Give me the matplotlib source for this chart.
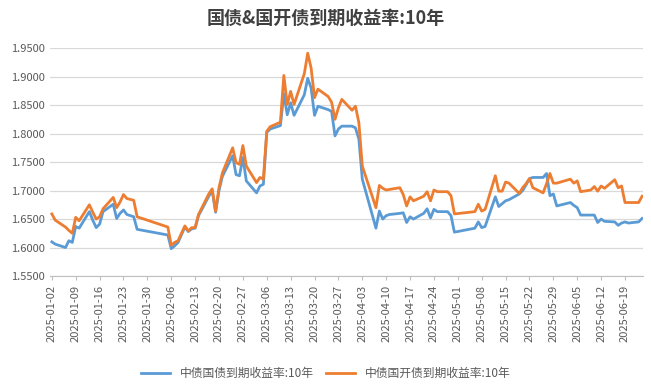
import matplotlib
matplotlib.use("Agg")
import matplotlib.pyplot as plt
import matplotlib.dates as mdates
import pandas as pd

plt.rcParams['font.family'] = ['Noto Sans CJK SC', 'DejaVu Sans']

# trading days and yields
dates = [
    "2025-01-02", "2025-01-03", "2025-01-06", "2025-01-07", "2025-01-08", "2025-01-09", "2025-01-10",
    "2025-01-13", "2025-01-14", "2025-01-15", "2025-01-16", "2025-01-17", "2025-01-20", "2025-01-21",
    "2025-01-22", "2025-01-23", "2025-01-24", "2025-01-26", "2025-01-27", "2025-02-05", "2025-02-06",
    "2025-02-07", "2025-02-08", "2025-02-10", "2025-02-11", "2025-02-12", "2025-02-13", "2025-02-14",
    "2025-02-17", "2025-02-18", "2025-02-19", "2025-02-20", "2025-02-21", "2025-02-24", "2025-02-25",
    "2025-02-26", "2025-02-27", "2025-02-28", "2025-03-03", "2025-03-04", "2025-03-05", "2025-03-06",
    "2025-03-07", "2025-03-10", "2025-03-11", "2025-03-12", "2025-03-13", "2025-03-14", "2025-03-17",
    "2025-03-18", "2025-03-19", "2025-03-20", "2025-03-21", "2025-03-24", "2025-03-25", "2025-03-26",
    "2025-03-27", "2025-03-28", "2025-03-31", "2025-04-01", "2025-04-02", "2025-04-03", "2025-04-07",
    "2025-04-08", "2025-04-09", "2025-04-10", "2025-04-11", "2025-04-14", "2025-04-15", "2025-04-16",
    "2025-04-17", "2025-04-18", "2025-04-21", "2025-04-22", "2025-04-23", "2025-04-24", "2025-04-25",
    "2025-04-28", "2025-04-29", "2025-04-30", "2025-05-06", "2025-05-07", "2025-05-08", "2025-05-09",
    "2025-05-12", "2025-05-13", "2025-05-14", "2025-05-15", "2025-05-16", "2025-05-19", "2025-05-20",
    "2025-05-21", "2025-05-22", "2025-05-23", "2025-05-26", "2025-05-27", "2025-05-28", "2025-05-29",
    "2025-05-30", "2025-06-03", "2025-06-04", "2025-06-05", "2025-06-06", "2025-06-09", "2025-06-10",
    "2025-06-11", "2025-06-12", "2025-06-13", "2025-06-16", "2025-06-17", "2025-06-18", "2025-06-19",
    "2025-06-20", "2025-06-23", "2025-06-24",
]

gov = [
    1.610, 1.606, 1.600, 1.612, 1.609, 1.637, 1.634,
    1.663, 1.648, 1.635, 1.641, 1.663, 1.676, 1.651,
    1.660, 1.666, 1.658, 1.654, 1.632, 1.622, 1.598,
    1.603, 1.609, 1.636, 1.628, 1.633, 1.634, 1.656,
    1.690, 1.700, 1.662, 1.700, 1.725, 1.761, 1.728,
    1.726, 1.758, 1.717, 1.696, 1.708, 1.711, 1.802,
    1.808, 1.814, 1.870, 1.833, 1.854, 1.832, 1.868,
    1.897, 1.880, 1.832, 1.848, 1.842, 1.839, 1.796,
    1.808, 1.813, 1.813, 1.810, 1.790, 1.720, 1.634,
    1.664, 1.650, 1.656, 1.658, 1.660, 1.661, 1.644,
    1.654, 1.650, 1.660, 1.668, 1.652, 1.667, 1.663,
    1.663, 1.656, 1.627, 1.634, 1.645, 1.635, 1.637,
    1.689, 1.672, 1.677, 1.682, 1.684, 1.694, 1.700,
    1.710, 1.721, 1.723, 1.723, 1.730, 1.691, 1.694,
    1.673, 1.679, 1.674, 1.670, 1.657, 1.657, 1.657,
    1.644, 1.650, 1.646, 1.645, 1.639, 1.643, 1.645,
    1.643, 1.645, 1.651,
]

cdb = [
    1.659, 1.648, 1.636, 1.630, 1.625, 1.653, 1.647,
    1.675, 1.662, 1.650, 1.654, 1.668, 1.688, 1.670,
    1.680, 1.693, 1.686, 1.683, 1.654, 1.636, 1.604,
    1.609, 1.612, 1.638, 1.629, 1.635, 1.635, 1.658,
    1.694, 1.703, 1.664, 1.705, 1.731, 1.775, 1.749,
    1.746, 1.779, 1.743, 1.714, 1.723, 1.720, 1.804,
    1.812, 1.820, 1.902, 1.851, 1.874, 1.851, 1.905,
    1.941, 1.915, 1.863, 1.878, 1.865, 1.855, 1.825,
    1.845, 1.860, 1.841, 1.848, 1.819, 1.743, 1.670,
    1.709, 1.704, 1.701, 1.702, 1.705, 1.693, 1.673,
    1.689, 1.682, 1.690, 1.698, 1.682, 1.701, 1.698,
    1.698, 1.691, 1.659, 1.663, 1.676, 1.664, 1.667,
    1.726, 1.699, 1.699, 1.715, 1.713, 1.695, 1.705,
    1.712, 1.721, 1.705, 1.696, 1.712, 1.730, 1.713,
    1.713, 1.720, 1.713, 1.717, 1.698, 1.701, 1.707,
    1.699, 1.708, 1.704, 1.719, 1.705, 1.708, 1.679,
    1.679, 1.679, 1.690,
]

x = pd.to_datetime(dates)
tick_dates = pd.date_range("2025-01-02", "2025-06-19", freq="7D")

fig = plt.figure(figsize=(6.51, 3.91), dpi=100)
ax = fig.add_axes([0.077, 0.294, 0.911, 0.583])

ax.plot(x, gov, color="#5b9bd5", lw=2.0, label="中债国债到期收益率:10年")
ax.plot(x, cdb, color="#ed7d31", lw=2.0, label="中债国开债到期收益率:10年")

ax.set_ylim(1.55, 1.95)
ax.set_yticks([1.55 + 0.05 * i for i in range(9)])
ax.yaxis.set_major_formatter(plt.FuncFormatter(lambda v, p: f"{v:.4f}"))
ax.set_xlim(pd.Timestamp("2025-01-01 12:00"), pd.Timestamp("2025-06-24 08:00"))
ax.set_xticks(tick_dates)
ax.xaxis.set_major_formatter(mdates.DateFormatter("%Y-%m-%d"))
plt.setp(ax.get_xticklabels(), rotation=90)

ax.grid(axis="y", color="#d9d9d9", lw=0.9)
ax.set_axisbelow(True)
for s in ["top", "right", "left"]:
    ax.spines[s].set_visible(False)
ax.spines["bottom"].set_color("#bfbfbf")
ax.tick_params(axis="y", length=0, labelsize=8, colors="#595959", pad=4)
ax.tick_params(axis="x", length=3, color="#bfbfbf", labelsize=8, colors="#595959")

fig.suptitle("国债&国开债到期收益率:10年", y=0.978, fontsize=13, fontweight="bold", color="#404040")
fig.legend(loc="lower center", bbox_to_anchor=(0.5, 0.0), ncol=2, frameon=False,
           fontsize=8.5, handlelength=2.5, columnspacing=1.0, labelcolor="#595959")

fig.savefig("out.png", dpi=100)
